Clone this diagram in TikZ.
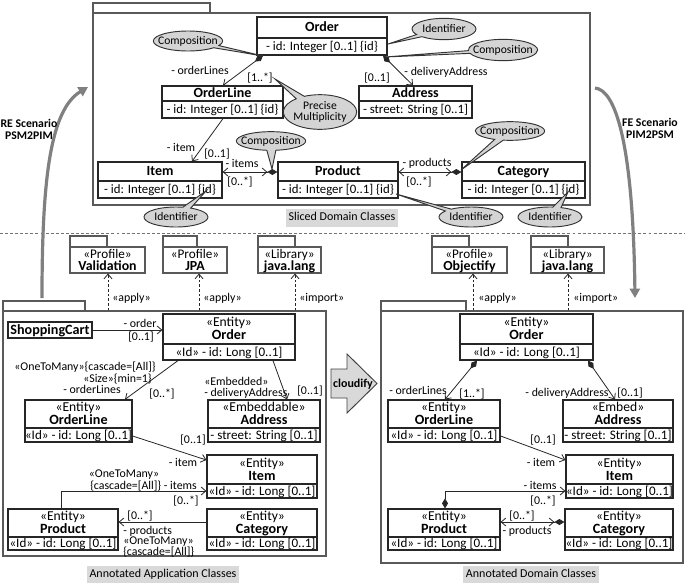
\documentclass[tikz,border=0pt]{standalone}
\usepackage{fontspec}
\setmainfont{Carlito}
\usetikzlibrary{arrows.meta,fit,shapes.callouts}
\tikzset{
  clsbox/.style={draw=black!85, line width=0.9pt, inner sep=0pt},
  boxline/.style={draw=black!85, line width=0.9pt},
  pkg/.style={draw=black!65, line width=0.8pt},
  txt/.style={inner sep=0pt, text height=0.64em, text depth=0pt},
  tname/.style={txt, font=\fontsize{10.5}{12}\selectfont\bfseries},
  tattr/.style={txt, font=\fontsize{9.6}{11}\selectfont},
  bname/.style={txt, font=\fontsize{10.6}{12}\selectfont\bfseries},
  bster/.style={txt, font=\fontsize{10.2}{12}\selectfont},
  battr/.style={txt, font=\fontsize{9.8}{11}\selectfont},
  pster/.style={txt, font=\fontsize{9.9}{12}\selectfont},
  pname/.style={txt, font=\fontsize{10.4}{12}\selectfont\bfseries},
  lbl/.style={txt, font=\fontsize{8.9}{10}\selectfont},
  capbox/.style={inner xsep=2pt, inner ysep=2.5pt, fill=black!15, text height=0.64em, text depth=0.2em, font=\fontsize{9}{10}\selectfont},
  scen/.style={txt, font=\fontsize{8.8}{10}\selectfont\bfseries},
  conn/.style={draw=black!85, line width=0.6pt},
  nav/.style={-{Straight Barb[length=3.5pt,width=6pt]}},
  compnav/.style={{Diamond[length=7.5pt,width=4.5pt]}-{Straight Barb[length=3.5pt,width=6pt]}},
  bicomp/.style={{Straight Barb[length=3.5pt,width=6pt]}-{Straight Barb[length=3.5pt,width=6pt]Diamond[length=7.5pt,width=4.5pt]}},
  dep/.style={draw=black!85, line width=0.6pt, dash pattern=on 2pt off 1.5pt, -{Straight Barb[length=3.5pt,width=6pt]}},
  callbox/.style={ellipse callout, draw=black!80, fill=black!17, line width=0.7pt,
     font=\fontsize{8.7}{9.5}\selectfont, inner xsep=-4pt, inner ysep=-1pt},
  bigarr/.style={draw=black!50, line width=2.4pt, -{Triangle[length=7pt,width=7.5pt]}},
}
% simple class: name x1 y1 x2 ydiv y2 title attr
\newcommand\sclass[8]{%
  \node[clsbox, fit={(#2,#3)(#4,#6)}] (#1) {};
  \draw[boxline] (#2,#5) -- (#4,#5);
  \node[tname] (#1-n) at ({(#2+#4)/2},{(#3+#5)/2}) {#7};
  \node[tattr] (#1-a) at ({(#2+#4)/2},{(#5+#6)/2}) {#8};
}
% stereotyped class: name x1 y1 x2 ydiv y2 stereo title attr
\newcommand\eclass[9]{%
  \node[clsbox, fit={(#2,#3)(#4,#6)}] (#1) {};
  \draw[boxline] (#2,#5) -- (#4,#5);
  \node[bster] (#1-s) at ({(#2+#4)/2},{(#3+#5)/2-6.5}) {#7};
  \node[bname] (#1-n) at ({(#2+#4)/2},{(#3+#5)/2+6.5}) {#8};
  \node[battr] (#1-a) at ({(#2+#4)/2},{(#5+#6)/2}) {#9};
}
% profile package: name x1 x2 tabx2 stereo title
\newcommand\prpkg[6]{%
  \draw[pkg] (#2,236) rectangle (#4,247);
  \node[pkg, inner sep=0pt, fit={(#2,247)(#3,273)}] (#1) {};
  \node[pster] (#1-s) at ({(#2+#3)/2},254) {#5};
  \node[pname] (#1-n) at ({(#2+#3)/2},266) {#6};
}
\begin{document}
\begin{tikzpicture}[x=0.75pt,y=-0.75pt]
\useasboundingbox (0,0) rectangle (685,582);

% separator
\draw[black!55, line width=0.6pt, dash pattern=on 2.2pt off 1.6pt] (0,233) -- (685,233);

% ---------- top package ----------
\draw[pkg] (93,3) rectangle (210,13);
\node[pkg, inner sep=0pt, fit={(93,13)(590,205)}] (toppkg) {};
\sclass{order}{257}{17}{387}{38}{55}{Order}{- id: Integer [0..1] \{id\}}
\sclass{orderline}{162}{86}{283}{101}{118}{OrderLine}{- id: Integer [0..1] \{id\}}
\sclass{address}{359}{86}{472}{101}{118}{Address}{- street: String [0..1]}
\sclass{item}{98}{162}{222}{181}{198}{Item}{- id: Integer [0..1] \{id\}}
\sclass{product}{278}{162}{398}{181}{198}{Product}{- id: Integer [0..1] \{id\}}
\sclass{category}{462}{162}{585}{181}{198}{Category}{- id: Integer [0..1] \{id\}}

\draw[conn,compnav] (order.south -| 263,0) -- (orderline.north -| 223,0);
\draw[conn,compnav] (order.south -| 383,0) -- (address.north -| 413,0);
\draw[conn,nav] (orderline.south -| 223,0) -- (item.north -| 192,0);
\draw[conn,bicomp] (item.east |- 0,172) -- (product.west |- 0,172);
\draw[conn,bicomp] (product.east |- 0,172) -- (category.west |- 0,172);

\node[lbl] (t1) at (200,70) {- orderLines};
\node[lbl] (t2) at (260,77) {[1..*]};
\node[lbl] (t3) at (377,77) {[0..1]};
\node[lbl] (t4) at (446,71) {- deliveryAddress};
\node[lbl] (t5) at (181,147) {- item};
\node[lbl] (t6) at (217,153) {[0..1]};
\node[lbl] (t7) at (242,163) {- items};
\node[lbl] (t8) at (240,181) {[0..*]};
\node[lbl] (t9) at (427,162) {- products};
\node[lbl] (t10) at (419,181) {[0..*]};

\node[callbox, minimum width=52pt, minimum height=15pt, callout absolute pointer={(263,56)}] (co1) at (188,41) {Composition};
\node[callbox, minimum width=48pt, minimum height=16pt, callout absolute pointer={(388,44)}] (co2) at (444,29) {Identifier};
\node[callbox, minimum width=50pt, minimum height=16pt, callout absolute pointer={(385,57)}] (co3) at (503,50) {Composition};
\node[callbox, align=center, minimum width=55pt, minimum height=26pt, callout absolute pointer={(275,79)}] (co4) at (320,112) {Precise\\[-1.5pt]Multiplicity};
\node[callbox, minimum width=52pt, minimum height=14pt, callout absolute pointer={(272,169)}] (co5) at (271,141) {Composition};
\node[callbox, minimum width=48pt, minimum height=15pt, callout absolute pointer={(206,191)}] (co6) at (176,217) {Identifier};
\node[callbox, minimum width=48pt, minimum height=15pt, callout absolute pointer={(396,194)}] (co7) at (471,217) {Identifier};
\node[callbox, minimum width=48pt, minimum height=15pt, callout absolute pointer={(568,192)}] (co8) at (550,217) {Identifier};
\node[callbox, minimum width=51pt, minimum height=14pt, callout absolute pointer={(461,170)}] (co9) at (510,131) {Composition};

\node[capbox] (cap1) at (342,218) {Sliced Domain Classes};

% ---------- scenario arrows ----------
\coordinate (reA) at (42,298);
\coordinate (reB) at (88,87);
\coordinate (feA) at (595,88);
\coordinate (feB) at (635,298);
\draw[bigarr] (reA) .. controls (42,180) and (50,110) .. (reB);
\draw[bigarr] (feA) .. controls (615,90) and (633,140) .. (feB);
\node[scen] (re1) at (29,123) {RE Scenario};
\node[scen] (re2) at (29,135) {PSM2PIM};
\node[scen] (fe1) at (650,122) {FE Scenario};
\node[scen] (fe2) at (650,134) {PIM2PSM};

% ---------- profiles ----------
\prpkg{valid}{70}{145}{107}{«Profile»}{Validation}
\prpkg{jpa}{163}{227}{197}{«Profile»}{JPA}
\prpkg{jlangl}{258}{321}{295}{«Library»}{java.lang}
\prpkg{objectify}{432}{507}{469}{«Profile»}{Objectify}
\prpkg{jlangr}{531}{604}{568}{«Library»}{java.lang}

% ---------- bottom-left package ----------
\draw[pkg] (3,301) rectangle (85,311);
\node[pkg, inner sep=0pt, fit={(3,311)(326,556)}] (lpkg) {};
\node[clsbox, fit={(8,322)(92,338)}] (shop) {};
\node[bname] (shop-n) at (50,330) {ShoppingCart};
\eclass{lorder}{163}{314}{295}{344}{360}{«Entity»}{Order}{«Id» - id: Long [0..1]}
\eclass{lorderline}{25}{400}{132}{428}{442}{«Entity»}{OrderLine}{«Id» - id: Long [0..1]}
\eclass{laddress}{208}{400}{320}{428}{442}{«Embeddable»}{Address}{- street: String [0..1]}
\eclass{litem}{207}{455}{317}{484}{498}{«Entity»}{Item}{«Id» - id: Long [0..1]}
\eclass{lproduct}{8}{509}{118}{537}{550}{«Entity»}{Product}{«Id» - id: Long [0..1]}
\eclass{lcategory}{207}{509}{317}{537}{550}{«Entity»}{Category}{«Id» - id: Long [0..1]}

\draw[dep] (lpkg.north -| 108,0) -- (valid.south -| 108,0);
\draw[dep] (lpkg.north -| 199,0) -- (jpa.south -| 199,0);
\draw[dep] (lpkg.north -| 295,0) -- (jlangl.south -| 295,0);
\node[lbl, anchor=west] (d1) at (112,297) {«apply»};
\node[lbl, anchor=west] (d2) at (203,297) {«apply»};
\node[lbl, anchor=west] (d3) at (299,297) {«import»};

\draw[conn,nav] (shop.east) -- (lorder.west |- shop.east);
\draw[conn,nav] (lorder.south -| 178,0) -- (lorderline.north -| 125,0);
\draw[conn,nav] (lorder.south -| 273,0) -- (laddress.north -| 287,0);
\draw[conn,nav] (lorderline.east |- 0,436) -- (litem.west |- 0,460);
\draw[conn,nav] (lproduct.north -| 61,0) |- (litem.west |- 0,491);
\draw[conn,nav] (lcategory.west |- 0,522) -- (lproduct.east |- 0,522);

\node[lbl] (b1) at (140,323) {- order};
\node[lbl] (b2) at (141,336) {[0..1]};
\node[lbl] (b3) at (85,366) {«OneToMany»\{cascade=[All]\}};
\node[lbl, anchor=east] (b4) at (152,378) {«Size»\{min=1\}};
\node[lbl, anchor=east] (b5) at (121,389) {- orderLines};
\node[lbl] (b6) at (162,393) {[0..*]};
\node[lbl, anchor=west] (b7) at (204,381) {«Embedded»};
\node[lbl, anchor=west] (b8) at (204,392) {- deliveryAddress};
\node[lbl] (b9) at (310,390) {[0..1]};
\node[lbl] (b10) at (193,439) {[0..1]};
\node[lbl] (b11) at (183,462) {- item};
\node[lbl] (b12) at (124,473) {«OneToMany»};
\node[lbl, anchor=west] (b13) at (90,485) {\{cascade=[All]\} - items};
\node[lbl] (b14) at (186,500) {[0..*]};
\node[lbl] (b15) at (140,515) {[0..*]};
\node[lbl, anchor=west] (b16) at (123,530) {- products};
\node[lbl, anchor=west] (b17) at (123,540.5) {«OneToMany»};
\node[lbl, anchor=west] (b18) at (123,551) {\{cascade=[All]\}};

\node[capbox] (cap2) at (163,575) {Annotated Application Classes};

% ---------- cloudify ----------
\draw[draw=black!75, fill=black!15, line width=0.7pt]
  (331,369) -- (347,369) -- (347,354) -- (377,383.5) -- (347,413) -- (347,398) -- (331,398) -- cycle;
\node[txt, font=\fontsize{9}{10}\selectfont\bfseries] (cloud) at (353,383.5) {cloudify};

% ---------- bottom-right package ----------
\draw[pkg] (381,301) rectangle (466,311);
\node[pkg, inner sep=0pt, fit={(381,311)(683,563)}] (rpkg) {};
\eclass{rorder}{460}{314}{593}{344}{360}{«Entity»}{Order}{«Id» - id: Long [0..1]}
\eclass{rorderline}{388}{400}{500}{428}{442}{«Entity»}{OrderLine}{«Id» - id: Long [0..1]}
\eclass{raddress}{563}{400}{673}{428}{442}{«Embed»}{Address}{- street: String [0..1]}
\eclass{ritem}{566}{455}{673}{484}{498}{«Entity»}{Item}{«Id» - id: Long [0..1]}
\eclass{rproduct}{388}{509}{500}{537}{550}{«Entity»}{Product}{«Id» - id: Long [0..1]}
\eclass{rcategory}{565}{509}{673}{537}{550}{«Entity»}{Category}{«Id» - id: Long [0..1]}

\draw[dep] (rpkg.north -| 473,0) -- (objectify.south -| 473,0);
\draw[dep] (rpkg.north -| 568,0) -- (jlangr.south -| 568,0);
\node[lbl, anchor=west] (d4) at (478,297) {«apply»};
\node[lbl, anchor=west] (d5) at (573,297) {«import»};

\draw[conn,compnav] (rorder.south -| 477,0) -- (rorderline.north -| 445,0);
\draw[conn,compnav] (rorder.south -| 588,0) -- (raddress.north -| 615,0);
\draw[conn,nav] (rorderline.east |- 0,436) -- (ritem.west |- 0,460);
\draw[conn,compnav] (rproduct.north -| 445,0) |- (ritem.west |- 0,491);
\draw[conn,bicomp] (rproduct.east |- 0,522) -- (rcategory.west |- 0,522);

\node[lbl] (r1) at (418,390) {- orderLines};
\node[lbl] (r2) at (472,393) {[1..*]};
\node[lbl] (r3) at (567,392) {- deliveryAddress};
\node[lbl] (r4) at (630,392) {[0..1]};
\node[lbl] (r5) at (543,439) {[0..1]};
\node[lbl] (r6) at (541,462) {- item};
\node[lbl] (r7) at (540,485) {- items};
\node[lbl] (r8) at (543,500) {[0..*]};
\node[lbl] (r9) at (522,515) {[0..*]};
\node[lbl] (r10) at (527,530) {- products};

\node[capbox] (cap3) at (531,575) {Annotated Domain Classes};
\end{tikzpicture}
\end{document}
